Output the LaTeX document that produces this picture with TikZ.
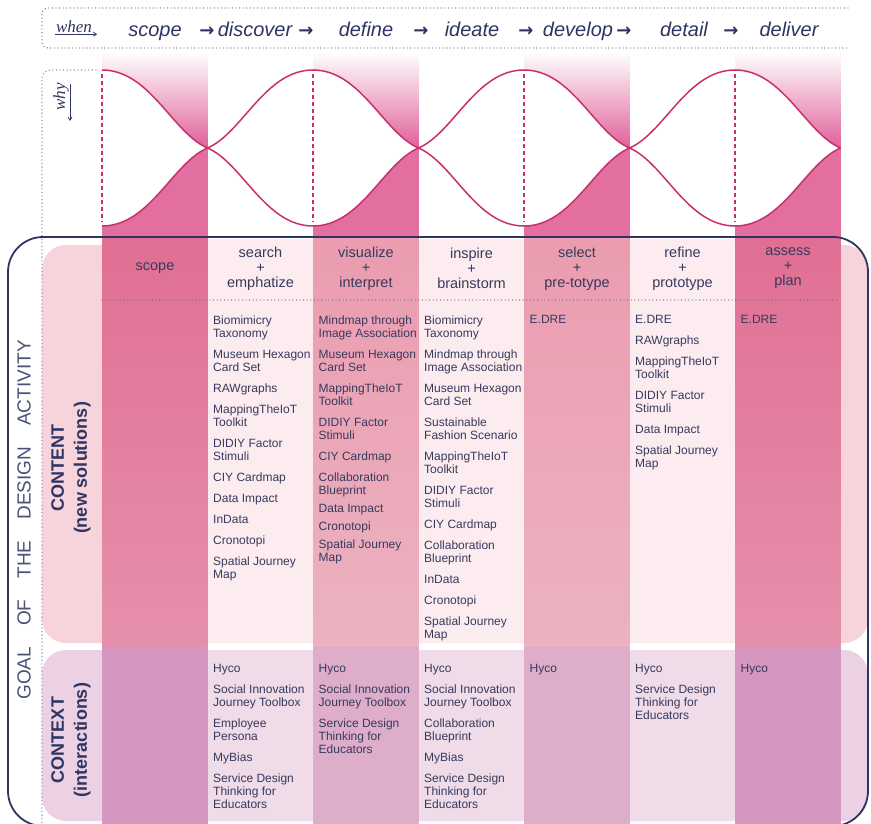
\documentclass[tikz,border=0pt]{standalone}
\usepackage{fontspec}
\setmainfont{Liberation Sans}
\newfontfamily\whenfont{Liberation Serif}
\newfontfamily\arrowfont{DejaVu Sans}
\usepackage{tikz}
\usetikzlibrary{arrows.meta,calc,positioning}

\definecolor{navy}{HTML}{2E3563}
\definecolor{inkgray}{HTML}{363A5E}
\definecolor{dotgray}{HTML}{6A6E88}
\definecolor{wave}{HTML}{C8306C}
\definecolor{whypink}{HTML}{E0609A}
\definecolor{whypinklow}{HTML}{E36FA1}
\definecolor{roseTop}{HTML}{E06F93}
\definecolor{roseBot}{HTML}{E590AB}
\definecolor{blushTop}{HTML}{EB9CAF}
\definecolor{blushBot}{HTML}{EBB2C1}
\definecolor{paleRose}{HTML}{FCECEF}
\definecolor{contentBg}{HTML}{F7D4DC}
\definecolor{lilacBg}{HTML}{EBD1E3}
\definecolor{plum}{HTML}{D597BF}
\definecolor{orchid}{HTML}{DDADCA}
\definecolor{paleLilac}{HTML}{F0DBE8}
\definecolor{goalgray}{HTML}{4A5278}

\begin{document}
\begin{tikzpicture}[x=1pt,y=-1pt,
	dotline/.style={draw=dotgray,line width=1.3pt,dash pattern=on 0pt off 3.6pt,line cap=round},
	phase/.style={anchor=base,inner sep=0pt,text=navy,font=\fontsize{20}{24}\selectfont\itshape},
	phasearrow/.style={anchor=base,inner sep=0pt,text=navy,font=\fontsize{18}{24}\selectfont\arrowfont\bfseries},
	whenwhy/.style={inner sep=1pt,text=navy,font=\fontsize{17}{20}\selectfont\whenfont\itshape},
	stage/.style={align=center,inner sep=0pt,text=inkgray,font=\fontsize{14.5}{15}\selectfont},
	tools/.style={anchor=north west,inner sep=0pt,align=left,text=inkgray,font=\fontsize{12}{13}\selectfont},
	side/.style={rotate=90,align=center,inner sep=0pt,text=navy,font=\fontsize{18}{23}\selectfont\bfseries}]
	\useasboundingbox (0,0) rectangle (871,824);

	\foreach \c in {102,313,524,735}{
		\shade[top color=white,bottom color=whypink] (\c,52) rectangle (\c+105.5,148);
		\fill[whypinklow] (\c,148) rectangle (\c+105.5,237);
	}
	\fill[white] (102,70) .. controls (150,70) and (172.5,133) .. (207.5,148) .. controls (242.5,163) and (265,226) .. (313,226) .. controls (361,226) and (383.5,163) .. (418.5,148) .. controls (453.5,133) and (476,70) .. (524,70) .. controls (572,70) and (594.5,133) .. (629.5,148) .. controls (664.5,163) and (687,226) .. (735,226) .. controls (783,226) and (805.5,163) .. (840.5,148)
		.. controls (805.5,133) and (783,70) .. (735,70) .. controls (687,70) and (664.5,133) .. (629.5,148) .. controls (594.5,163) and (572,226) .. (524,226) .. controls (476,226) and (453.5,163) .. (418.5,148) .. controls (383.5,133) and (361,70) .. (313,70) .. controls (265,70) and (242.5,133) .. (207.5,148) .. controls (172.5,163) and (150,226) .. (102,226) -- cycle;
	\draw[wave,line width=1.5pt] (102,70) .. controls (150,70) and (172.5,133) .. (207.5,148) .. controls (242.5,163) and (265,226) .. (313,226) .. controls (361,226) and (383.5,163) .. (418.5,148) .. controls (453.5,133) and (476,70) .. (524,70) .. controls (572,70) and (594.5,133) .. (629.5,148) .. controls (664.5,163) and (687,226) .. (735,226) .. controls (783,226) and (805.5,163) .. (840.5,148);
	\draw[wave,line width=1.5pt] (102,226) .. controls (150,226) and (172.5,163) .. (207.5,148) .. controls (242.5,133) and (265,70) .. (313,70) .. controls (361,70) and (383.5,133) .. (418.5,148) .. controls (453.5,163) and (476,226) .. (524,226) .. controls (572,226) and (594.5,163) .. (629.5,148) .. controls (664.5,133) and (687,70) .. (735,70) .. controls (783,70) and (805.5,133) .. (840.5,148);
	\foreach \c in {102,313,524,735}
		\draw[wave,line width=1.3pt,dash pattern=on 4pt off 3pt] (\c,74) -- (\c,222);

	\fill[contentBg,rounded corners=24] (42,245) rectangle (868,643);
	\fill[lilacBg,rounded corners=24] (42,650) rectangle (868,821);
	\foreach \c in {102,735}{
		\shade[top color=roseTop,bottom color=roseBot] (\c,237) rectangle (\c+105.5,646.5);
		\fill[plum] (\c,646.5) rectangle (\c+105.5,824);
	}
	\foreach \c in {313,524}{
		\shade[top color=blushTop,bottom color=blushBot] (\c,237) rectangle (\c+105.5,646.5);
		\fill[orchid] (\c,646.5) rectangle (\c+105.5,824);
	}
	\foreach \c in {207.5,418.5,629.5}{
		\fill[paleRose] (\c,239) rectangle (\c+105.5,643);
		\fill[paleLilac] (\c,650) rectangle (\c+105.5,821);
	}

	\draw[dotline] (848,8) -- (48,8) to[out=180,in=90] (42,14) -- (42,42) to[out=270,in=180] (48,48) -- (848,48);
	\draw[dotline] (96,70) -- (50,70) to[out=180,in=90] (42,78) -- (42,824);
	\draw[dotline] (102,300) -- (840,300);
	\draw[navy,line width=1.8pt,rounded corners=35] (8,237) rectangle (868,826);

	\node[whenwhy] (when) at (74,27) {when};
	\draw[navy,line width=0.8pt,-{Straight Barb[length=3pt,width=4pt]}] (when.south west) -- ([xshift=4pt]when.south east);
	\node[whenwhy,rotate=90] (why) at (61,97) {why};
	\draw[navy,line width=0.8pt,-{Straight Barb[length=3pt,width=4pt]}] ([yshift=-2pt]why.south east) -- ([yshift=-9pt]why.south west);

	\foreach \x/\t [count=\i] in {155/scope,255/discover,366/define,472/ideate,578/develop,684/detail,789/deliver}
		\node[phase] (ph\i) at (\x,37) {\t};
	\foreach \x [count=\i] in {207,306,421,526,624,731}
		\node[phasearrow] (ar\i) at (\x,37) {→};

	\node[stage] (st1) at (155,268) {scope};
	\node[stage] (st2) at (260.5,268.5) {search\\+\\emphatize};
	\node[stage] (st3) at (366,268.5) {visualize\\+\\interpret};
	\node[stage] (st4) at (471.5,268.5) {inspire\\+\\brainstorm};
	\node[stage] (st5) at (577,268.5) {select\\+\\pre-totype};
	\node[stage] (st6) at (682.5,268.5) {refine\\+\\prototype};
	\node[stage] (st7) at (788,268.5) {assess\\+\\plan};

	\node[tools] (cont2) at (213,315.5) {Biomimicry\\Taxonomy\\[8pt]Museum Hexagon\\Card Set\\[8pt]RAWgraphs\\[8pt]MappingTheIoT\\Toolkit\\[8pt]DIDIY Factor\\Stimuli\\[8pt]CIY Cardmap\\[8pt]Data Impact\\[8pt]InData\\[8pt]Cronotopi\\[8pt]Spatial Journey\\Map};
	\node[tools] (cont3) at (318.5,315.5) {Mindmap through\\Image Association\\[8pt]Museum Hexagon\\Card Set\\[8pt]MappingTheIoT\\Toolkit\\[8pt]DIDIY Factor\\Stimuli\\[8pt]CIY Cardmap\\[8pt]Collaboration\\Blueprint\\[5pt]Data Impact\\[5pt]Cronotopi\\[5pt]Spatial Journey\\Map};
	\node[tools] (cont4) at (424,315.5) {Biomimicry\\Taxonomy\\[8pt]Mindmap through\\Image Association\\[8pt]Museum Hexagon\\Card Set\\[8pt]Sustainable\\Fashion Scenario\\[8pt]MappingTheIoT\\Toolkit\\[8pt]DIDIY Factor\\Stimuli\\[8pt]CIY Cardmap\\[8pt]Collaboration\\Blueprint\\[8pt]InData\\[8pt]Cronotopi\\[8pt]Spatial Journey\\Map};
	\node[tools] (cont5) at (529.5,315.5) {E.DRE};
	\node[tools] (cont6) at (635,315.5) {E.DRE\\[8pt]RAWgraphs\\[8pt]MappingTheIoT\\Toolkit\\[8pt]DIDIY Factor\\Stimuli\\[8pt]Data Impact\\[8pt]Spatial Journey\\Map};
	\node[tools] (cont7) at (740.5,315.5) {E.DRE};

	\node[tools] (ctx2) at (213,664.5) {Hyco\\[8pt]Social Innovation\\Journey Toolbox\\[8pt]Employee\\Persona\\[8pt]MyBias\\[8pt]Service Design\\Thinking for\\Educators};
	\node[tools] (ctx3) at (318.5,664.5) {Hyco\\[8pt]Social Innovation\\Journey Toolbox\\[8pt]Service Design\\Thinking for\\Educators};
	\node[tools] (ctx4) at (424,664.5) {Hyco\\[8pt]Social Innovation\\Journey Toolbox\\[8pt]Collaboration\\Blueprint\\[8pt]MyBias\\[8pt]Service Design\\Thinking for\\Educators};
	\node[tools] (ctx5) at (529.5,664.5) {Hyco};
	\node[tools] (ctx6) at (635,664.5) {Hyco\\[8pt]Service Design\\Thinking for\\Educators};
	\node[tools] (ctx7) at (740.5,664.5) {Hyco};

	\node[rotate=90,inner sep=0pt,text=goalgray,font=\fontsize{19}{22}\selectfont] (goal) at (24,520)
		{GOAL\hspace{21pt}OF\hspace{21pt}THE\hspace{21pt}DESIGN\hspace{21pt}ACTIVITY};
	\node[side] (content) at (71,468) {CONTENT\\(new solutions)};
	\node[side] (context) at (71,740) {CONTEXT\\(interactions)};
\end{tikzpicture}
\end{document}
